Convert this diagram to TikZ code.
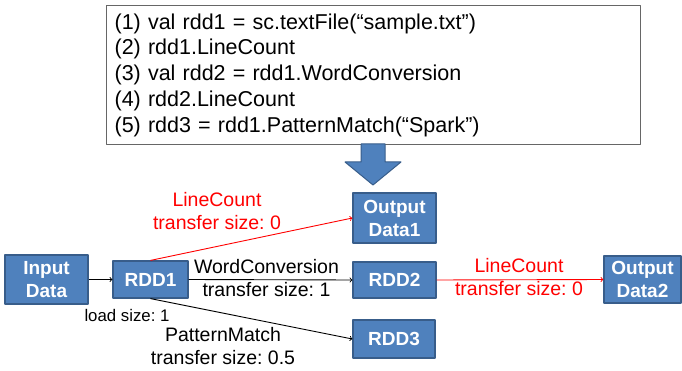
\documentclass[tikz,border=0pt]{standalone}
\usepackage{fontspec}
\setmainfont{Liberation Sans}
\usetikzlibrary{arrows}

\definecolor{rddblue}{HTML}{4F81BD}
\definecolor{rddedge}{HTML}{385D8A}

\frenchspacing
\begin{document}
\begin{tikzpicture}[x=1pt, y=-1pt, >=to, line join=round,
    rdd/.style={draw=rddedge, line width=1.2pt, fill=rddblue, text=white,
      font=\fontsize{19}{23}\selectfont\bfseries, align=center, inner sep=0pt},
    lbl/.style={font=\fontsize{19.5}{23}\selectfont, align=center, inner sep=0pt},
    flow/.style={->, line width=0.9pt}]
  % page size of the reference
  \useasboundingbox (0,0) rectangle (682,371);

  % Code listing at the top
  \node[draw=black!60, line width=1.2pt, anchor=north west, align=left,
        text width=518pt, minimum height=139pt, inner xsep=8pt, inner ysep=0pt,
        font=\fontsize{21.5}{25.8}\selectfont] (code) at (106,5)
    {(1) val rdd1 = sc.textFile(“sample.txt”)\\
     (2) rdd1.LineCount\\
     (3) val rdd2 = rdd1.WordConversion\\
     (4) rdd2.LineCount\\
     (5) rdd3 = rdd1.PatternMatch(“Spark”)};

  % Block arrow under the listing
  \draw[rddedge, line width=1pt, fill=rddblue]
    (361,144) -- (385,144) -- (385,162) -- (401,162) -- (373,185)
    -- (345,162) -- (361,162) -- cycle;

  % RDD boxes
  \node[rdd, minimum width=83pt, minimum height=49pt] (input) at (46.5,279.5) {Input\\Data};
  \node[rdd, minimum width=75pt, minimum height=37pt] (rdd1) at (150.5,279.5) {RDD1};
  \node[rdd, minimum width=83pt, minimum height=50pt] (out1) at (394.5,218) {Output\\Data1};
  \node[rdd, minimum width=83pt, minimum height=36pt] (rdd2) at (394.5,280) {RDD2};
  \node[rdd, minimum width=82pt, minimum height=38pt] (rdd3) at (394,339) {RDD3};
  \node[rdd, minimum width=77pt, minimum height=47pt] (out2) at (642.5,279.5) {Output\\Data2};

  % Transformations
  \draw[flow] (input) -- (rdd1);
  \draw[flow, red] (rdd1.north) -- (out1.west);
  \draw[flow] (rdd1.east) -- (rdd2.west);
  \draw[flow] (rdd1.south) -- (rdd3.west);
  \draw[flow, red] (rdd2.east) -- (out2.west);

  % Labels on the transformations
  \node[lbl, text=red] (lcA) at (217,211.5) {LineCount\\transfer size: 0};
  \node[lbl] (wc) at (266.5,278) {WordConversion\\transfer size: 1};
  \node[lbl, font=\fontsize{16.8}{20}\selectfont] (load) at (127,315) {load size: 1};
  \node[lbl] (pm) at (223,346.5) {PatternMatch\\transfer size: 0.5};
  \node[lbl, text=red] (lcB) at (519,277) {LineCount\\transfer size: 0};
\end{tikzpicture}
\end{document}
